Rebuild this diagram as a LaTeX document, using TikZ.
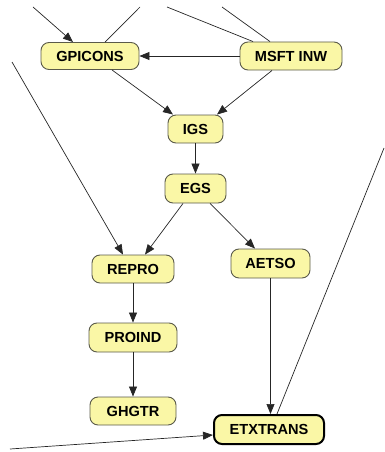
\documentclass[tikz,border=0pt]{standalone}
\usepackage{fontspec}
\setmainfont{Liberation Sans}
\usetikzlibrary{arrows.meta,calc}
\definecolor{boxfill}{HTML}{FAF7A6}
\definecolor{boxline}{HTML}{5A5A4A}
\tikzset{
  box/.style={draw=boxline, line width=0.9pt, fill=boxfill, rounded corners=8pt,
    inner sep=0pt, font=\bfseries\fontsize{14.6pt}{16pt}\selectfont, text=black},
  mainbox/.style={box, draw=black, line width=2pt},
  link/.style={draw=black!85, line width=0.7pt},
  arr/.style={link, -{Triangle[length=10pt,width=8pt]}}
}
\begin{document}
\begin{tikzpicture}[x=1pt,y=-1pt]
\useasboundingbox (0,0) rectangle (384,452);
% process nodes
\node[box, minimum width=98pt, minimum height=27pt] (gpicons) at (90,56) {GPICONS};
\node[box, minimum width=102pt, minimum height=28pt] (msft) at (291,56) {MSFT INW};
\node[box, minimum width=55pt, minimum height=28pt] (igs) at (195.5,129) {IGS};
\node[box, minimum width=61pt, minimum height=29pt] (egs) at (195.5,188.5) {EGS};
\node[box, minimum width=82pt, minimum height=28pt] (repro) at (133,269) {REPRO};
\node[box, minimum width=79pt, minimum height=29pt] (aetso) at (270.5,263.5) {AETSO};
\node[box, minimum width=88pt, minimum height=29pt] (proind) at (133,337.5) {PROIND};
\node[box, minimum width=86pt, minimum height=28pt] (ghgtr) at (133,411) {GHGTR};
\node[mainbox, minimum width=110pt, minimum height=29pt] (etx) at (269,429.5) {ETXTRANS};
% loose ends of links that leave the drawing
\coordinate (inA) at (33,7);
\coordinate (outA) at (140,7);
\coordinate (outB) at (167,7);
\coordinate (outC) at (222,7);
\coordinate (inB) at (12,62);
\coordinate (outD) at (384,148);
\coordinate (inC) at (10,449);
% links
\draw[arr] (inA) -- ($(gpicons.north)+(-17,0)$);
\draw[link] ($(gpicons.north)+(15,0)$) -- (outA);
\draw[link] ($(msft.north)+(-38,0)$) -- (outB);
\draw[link] ($(msft.north)+(-21,0)$) -- (outC);
\draw[arr] (msft.west) -- (gpicons.east);
\draw[arr] ($(gpicons.south)+(22,0)$) -- ($(igs.north)+(-22.5,0)$);
\draw[arr] ($(msft.south)+(-19,0)$) -- ($(igs.north)+(21.5,0)$);
\draw[arr] (igs) -- (egs);
\draw[arr] (inB) -- ($(repro.north)+(-10,0)$);
\draw[arr] ($(egs.south)+(-12.5,0)$) -- ($(repro.north)+(12,0)$);
\draw[arr] ($(egs.south)+(14.5,0)$) -- ($(aetso.north)+(-15.5,0)$);
\draw[arr] (repro) -- (proind);
\draw[arr] (proind) -- (ghgtr);
\draw[arr] (aetso.south) -- (aetso.south |- etx.north);
\draw[link] ($(etx.north)+(8,0)$) -- (outD);
\draw[arr] (inC) -- ($(etx.west)+(0,5.5)$);
\end{tikzpicture}
\end{document}
